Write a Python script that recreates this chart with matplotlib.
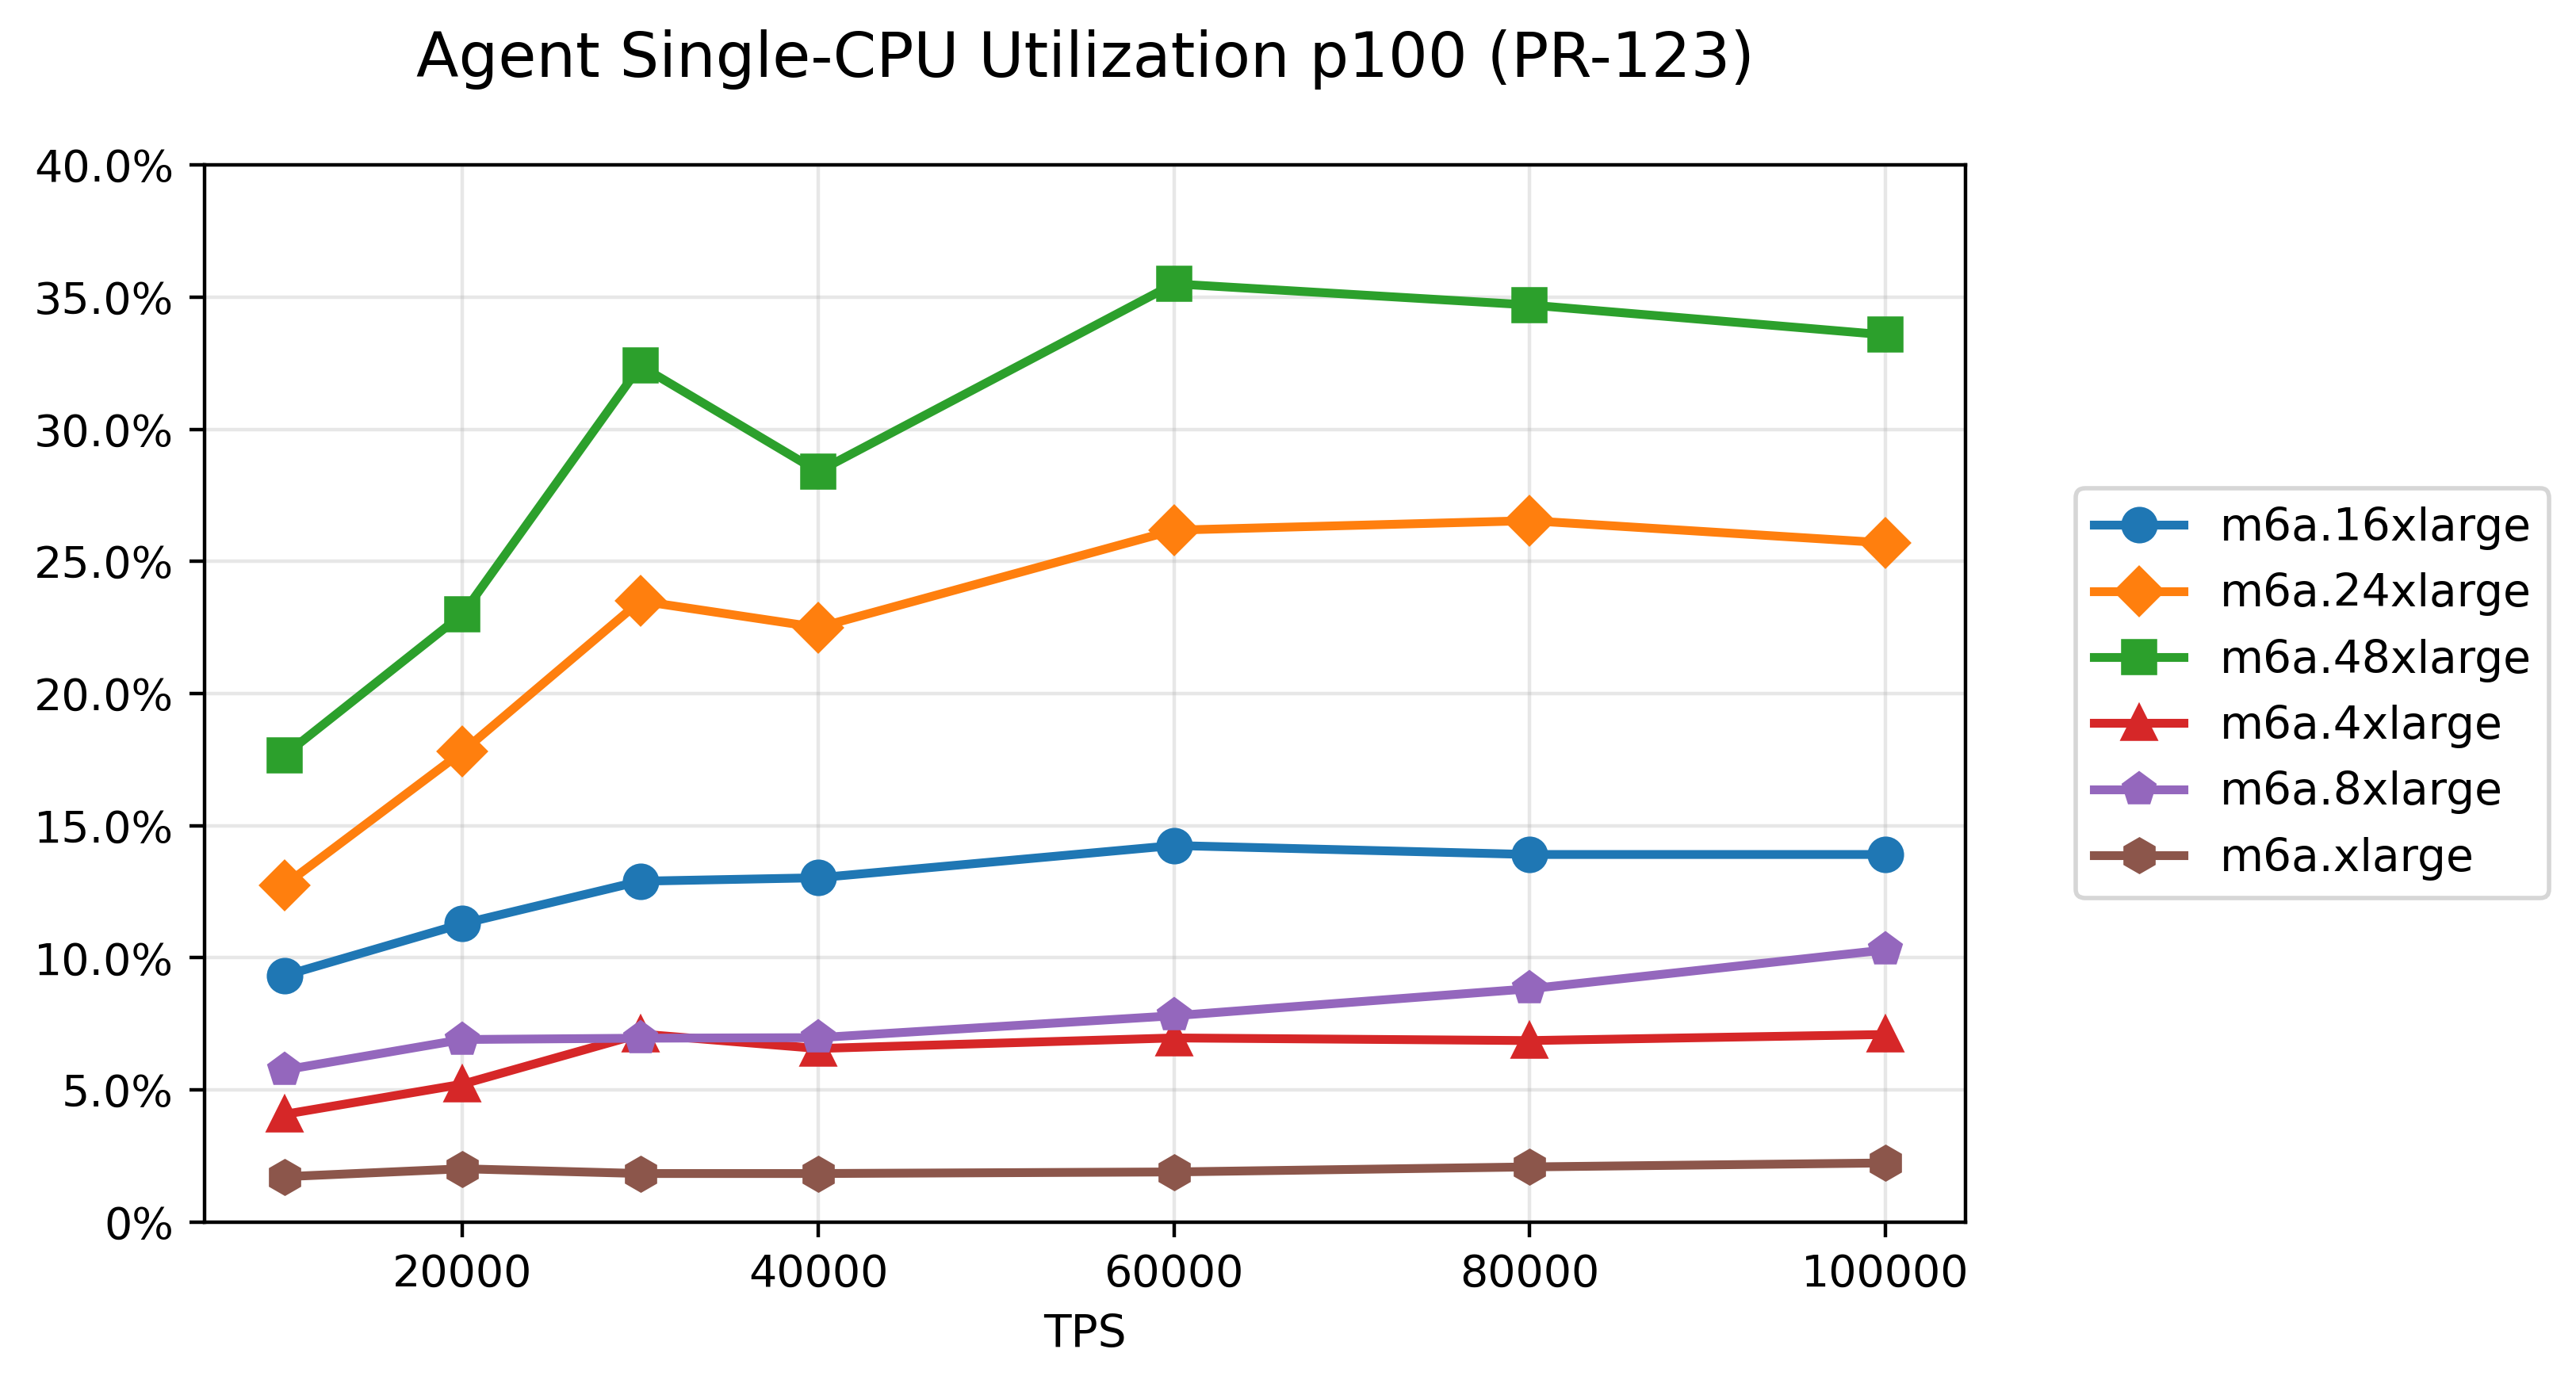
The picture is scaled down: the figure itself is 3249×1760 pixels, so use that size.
import matplotlib
matplotlib.use('Agg')
import matplotlib.pyplot as plt
from matplotlib.ticker import FuncFormatter

tps = [10000, 20000, 30000, 40000, 60000, 80000, 100000]

# p100 single-cpu utilization (%) per instance type
m6a_16xlarge = [9.33, 11.29, 12.90, 13.03, 14.25, 13.91, 13.91]
m6a_24xlarge = [12.75, 17.80, 23.50, 22.50, 26.18, 26.54, 25.70]
m6a_48xlarge = [17.67, 23.00, 32.40, 28.40, 35.50, 34.70, 33.57]
m6a_4xlarge = [4.08, 5.22, 7.12, 6.57, 6.97, 6.87, 7.10]
m6a_8xlarge = [5.76, 6.91, 6.96, 6.98, 7.81, 8.83, 10.30]
m6a_xlarge = [1.72, 2.02, 1.84, 1.84, 1.90, 2.09, 2.24]

series = [
    ('m6a.16xlarge', m6a_16xlarge, 'o'),
    ('m6a.24xlarge', m6a_24xlarge, 'D'),
    ('m6a.48xlarge', m6a_48xlarge, 's'),
    ('m6a.4xlarge', m6a_4xlarge, '^'),
    ('m6a.8xlarge', m6a_8xlarge, 'p'),
    ('m6a.xlarge', m6a_xlarge, 'h'),
]

fig, ax = plt.subplots(figsize=(3249 / 400, 1760 / 400), dpi=400)
fig.subplots_adjust(left=0.0794, right=0.763, top=0.8818, bottom=0.1239)

for name, vals, mk in series:
    ax.plot(tps, vals, marker=mk, linewidth=2, markersize=7.3, label=name)

ax.set_ylim(0, 40)
ax.yaxis.set_major_formatter(FuncFormatter(lambda y, _: '0%' if y == 0 else f'{y:.1f}%'))
ax.grid(True, alpha=0.3)
ax.set_xlabel('TPS', fontsize=10.2)
ax.set_title('Agent Single-CPU Utilization p100 (PR-123)', fontsize=14.1, pad=20)
ax.legend(loc='center left', bbox_to_anchor=(1.05, 0.5), fontsize=10.2)

fig.savefig('out.png', dpi=400)
